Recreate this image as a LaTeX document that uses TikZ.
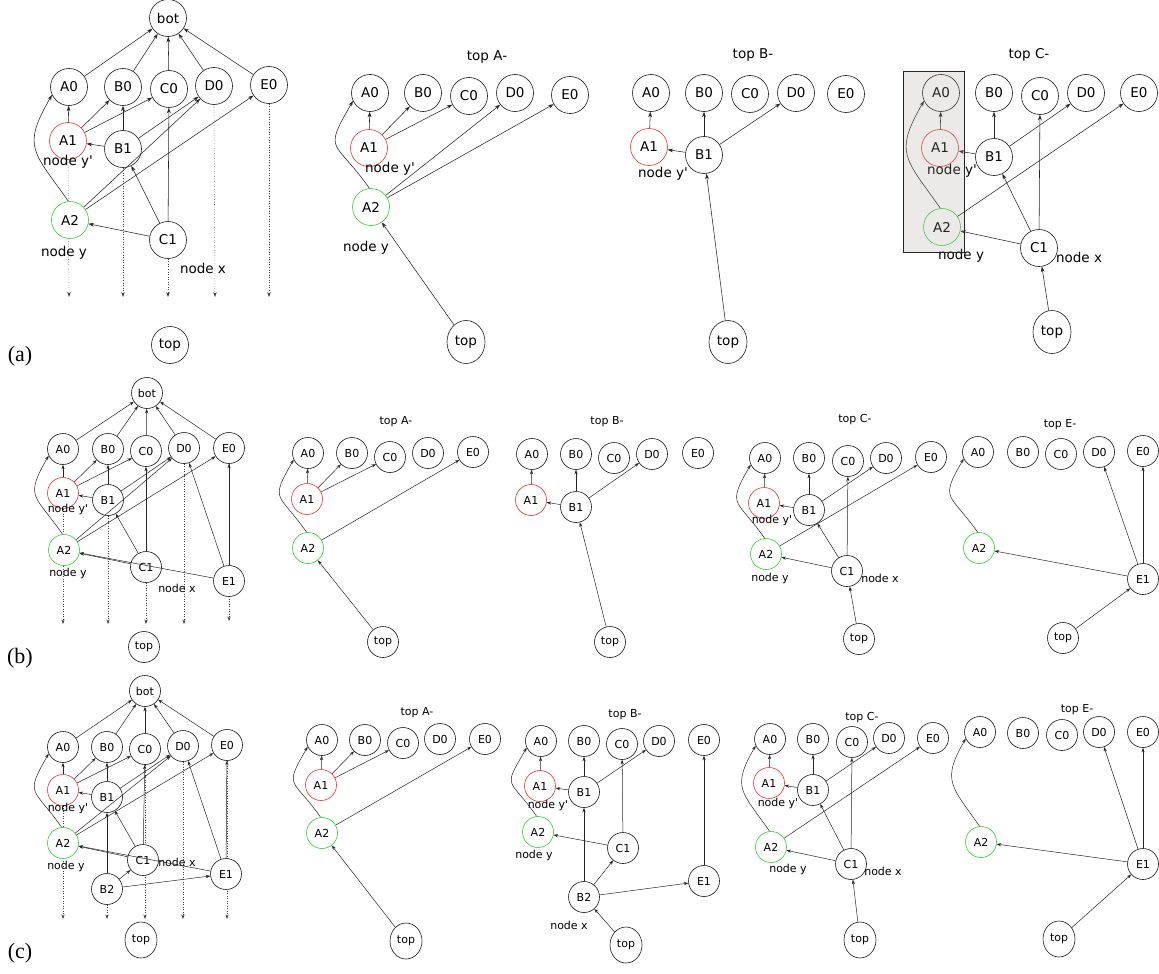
\documentclass[tikz,border=0pt]{standalone}
\usepackage{fontspec}
\setmainfont{DejaVu Sans}
\newfontfamily\dvs{DejaVu Sans}
\newfontfamily\serifpanel{Liberation Serif}
\usetikzlibrary{arrows.meta,shapes.geometric}
\pgfdeclarelayer{bg}
\pgfdeclarelayer{fg}
\pgfsetlayers{bg,main,fg}
\definecolor{nred}{RGB}{240,50,50}
\definecolor{ngreen}{RGB}{40,215,40}
\definecolor{boxfill}{RGB}{170,160,155}
\newcommand\myfa{\dvs\fontsize{13.5}{16}\selectfont}
\newcommand\myfb{\dvs\fontsize{11}{13}\selectfont}
\newcommand\yp{node y'}
\newcommand\curvA[2]{(#1.95) .. controls +(125:61) and +(240:61) .. (#2.205)}
\newcommand\curvB[2]{(#1.95) .. controls +(125:49) and +(240:49) .. (#2.205)}
\tikzset{
  base/.style={ellipse, draw=black!90, line width=0.6pt, fill=white, inner sep=0pt},
  na/.style={base, minimum width=37pt, minimum height=37pt, font=\myfa},
  nta/.style={base, minimum width=38pt, minimum height=43pt, font=\myfa},
  nb/.style={base, minimum width=31pt, minimum height=31pt, font=\myfb},
  ntb/.style={base, minimum width=32pt, minimum height=36pt, font=\myfb},
  rd/.style={draw=nred},
  gn/.style={draw=ngreen},
  laba/.style={inner sep=0pt, font=\myfa},
  labb/.style={inner sep=0pt, font=\myfb},
  ar/.style={-{Stealth[length=5.5pt,width=3.8pt]}, line width=0.55pt, draw=black!85},
  arb/.style={-{Stealth[length=4.5pt,width=3.2pt]}, line width=0.5pt, draw=black!85},
  dta/.style={dotted, -{Stealth[length=5pt,width=3.4pt]}, line width=0.55pt, draw=black!75},
  dtb/.style={dotted, -{Stealth[length=4.5pt,width=3.2pt]}, line width=0.5pt, draw=black!75},
  plab/.style={inner sep=0pt, font=\serifpanel\fontsize{22}{24}\selectfont},
}
\begin{document}
\begin{tikzpicture}[x=1pt,y=1pt]
\useasboundingbox (0,0) rectangle (1159,-974);
\begin{pgfonlayer}{bg}
\fill[white] (0,0) rectangle (1159,-974);
\end{pgfonlayer}

%% ---------------- (a) main ----------------
\node[na] (a-bot) at (168,-18) {bot};
\node[na] (a-A0) at (69,-87) {A0};
\node[na] (a-B0) at (123,-87) {B0};
\node[na] (a-C0) at (169,-89) {C0};
\node[na] (a-D0) at (214,-86) {D0};
\node[na] (a-E0) at (269,-85) {E0};
\node[na,rd] (a-A1) at (68,-141) {A1};
\node[na] (a-B1) at (123,-149) {B1};
\node[na,gn] (a-A2) at (70,-220) {A2};
\node[na] (a-C1) at (168,-240) {C1};
\node[na] (a-top) at (170,-345) {top};
\node[laba] (a-ly1) at (68,-162) {\yp};
\node[laba] (a-ly) at (64,-253) {node y};
\node[laba] (a-lx) at (203,-268) {node x};
\coordinate (a-dA) at (69,-297);
\coordinate (a-dB) at (123,-297);
\coordinate (a-dC) at (168,-297);
\coordinate (a-dD) at (215,-297);
\coordinate (a-dE) at (269,-297);
\begin{pgfonlayer}{bg}
\draw[dta] (a-A1.south) -- (a-dA);
\draw[dta] (a-B1.south) -- (a-dB);
\draw[dta] (a-C1.south) -- (a-dC);
\draw[dta] (a-D0.south) -- (a-dD);
\draw[dta] (a-E0.south) -- (a-dE);
\end{pgfonlayer}
\foreach \n in {A0,B0,C0,D0,E0} \draw[ar] (a-\n) -- (a-bot);
\draw[ar] (a-A1) -- (a-A0);
\draw[ar] (a-A1) -- (a-B0);
\draw[ar] (a-A1) -- (a-C0);
\draw[ar] (a-B1) -- (a-A1);
\draw[ar] (a-B1) -- (a-B0);
\draw[ar] (a-B1) -- (a-D0);
\draw[ar] \curvA{a-A2}{a-A0};
\draw[ar] (a-A2) -- (a-D0);
\draw[ar] (a-A2) -- (a-E0);
\draw[ar] (a-C1) -- (a-A2);
\draw[ar] (a-C1) -- (a-B1);
\draw[ar] (a-C1) -- (a-C0);

%% ---------------- (a) top A- ----------------
\node[laba] (aA-t) at (487,-57) {top A-};
\node[na] (aA-A0) at (370,-93) {A0};
\node[na] (aA-B0) at (423,-93) {B0};
\node[na] (aA-C0) at (469,-96) {C0};
\node[na] (aA-D0) at (515,-93) {D0};
\node[na] (aA-E0) at (570,-95) {E0};
\node[na,rd] (aA-A1) at (369,-148) {A1};
\node[na,gn] (aA-A2) at (371,-207) {A2};
\node[nta] (aA-top) at (466,-342) {top};
\node[laba] (aA-ly1) at (390,-169) {\yp};
\node[laba] (aA-ly) at (366,-248) {node y};
\draw[ar] (aA-A1) -- (aA-A0);
\draw[ar] (aA-A1) -- (aA-B0);
\draw[ar] (aA-A1) -- (aA-C0);
\draw[ar] \curvA{aA-A2}{aA-A0};
\draw[ar] (aA-A2) -- (aA-D0);
\draw[ar] (aA-A2) -- (aA-E0);
\draw[ar] (aA-top) -- (aA-A2);

%% ---------------- (a) top B- ----------------
\node[laba] (aB-t) at (753,-55) {top B-};
\node[na] (aB-A0) at (651,-93) {A0};
\node[na] (aB-B0) at (704,-93) {B0};
\node[na] (aB-C0) at (750,-94) {C0};
\node[na] (aB-D0) at (796,-93) {D0};
\node[na] (aB-E0) at (846,-94) {E0};
\node[na,rd] (aB-A1) at (649,-147) {A1};
\node[na] (aB-B1) at (704,-155) {B1};
\node[nta] (aB-top) at (728,-342) {top};
\node[laba] (aB-ly1) at (663,-174) {\yp};
\draw[ar] (aB-A1) -- (aB-A0);
\draw[ar] (aB-B1) -- (aB-A1);
\draw[ar] (aB-B1) -- (aB-B0);
\draw[ar] (aB-B1) -- (aB-D0);
\draw[ar] (aB-top) -- (aB-B1);

%% ---------------- (a) top C- ----------------
\node[laba] (aC-t) at (1029,-55) {top C-};
\node[na] (aC-A0) at (941,-93) {A0};
\node[na] (aC-B0) at (994,-93) {B0};
\node[na] (aC-C0) at (1040,-96) {C0};
\node[na] (aC-D0) at (1086,-93) {D0};
\node[na] (aC-E0) at (1139,-93) {E0};
\node[na,rd] (aC-A1) at (940,-148) {A1};
\node[na] (aC-B1) at (994,-157) {B1};
\node[na,gn] (aC-A2) at (942,-227) {A2};
\node[na] (aC-C1) at (1039,-248) {C1};
\node[nta] (aC-top) at (1052,-332) {top};
\node[laba] (aC-ly1) at (952,-171) {\yp};
\node[laba] (aC-ly) at (961,-256) {node y};
\node[laba] (aC-lx) at (1079,-257) {node x};
\draw[ar] (aC-A1) -- (aC-A0);
\draw[ar] \curvA{aC-A2}{aC-A0};
\draw[ar] (aC-B1) -- (aC-A1);
\draw[ar] (aC-B1) -- (aC-B0);
\draw[ar] (aC-B1) -- (aC-D0);
\draw[ar] (aC-A2) -- (aC-E0);
\draw[ar] (aC-C1) -- (aC-A2);
\draw[ar] (aC-C1) -- (aC-B1);
\draw[ar] (aC-C1) -- (aC-C0);
\draw[ar] (aC-top) -- (aC-C1);
\begin{pgfonlayer}{fg}
\draw[draw=black!85, line width=0.8pt, fill=boxfill, fill opacity=0.22] (903,-71) rectangle (964,-252);
\end{pgfonlayer}

\node[plab] (pa) at (20,-356) {(a)};

%% ---------------- (b) main ----------------
\node[nb] (b-bot) at (147,-393) {bot};
\node[nb] (b-A0) at (63,-449) {A0};
\node[nb] (b-B0) at (108,-449) {B0};
\node[nb] (b-C0) at (146,-451) {C0};
\node[nb] (b-D0) at (184,-448) {D0};
\node[nb] (b-E0) at (229,-448) {E0};
\node[nb,rd] (b-A1) at (63,-493) {A1};
\node[nb] (b-B1) at (108,-500) {B1};
\node[nb,gn] (b-A2) at (64,-550) {A2};
\node[nb] (b-C1) at (146,-567) {C1};
\node[nb] (b-E1) at (229,-581) {E1};
\node[nb] (b-top) at (144,-647) {top};
\node[labb] (b-ly1) at (68,-509) {\yp};
\node[labb] (b-ly) at (68,-573) {node y};
\node[labb] (b-lx) at (177,-588) {node x};
\coordinate (b-dA) at (63,-624);
\coordinate (b-dB) at (108,-624);
\coordinate (b-dC) at (146,-624);
\coordinate (b-dD) at (184,-624);
\coordinate (b-dE) at (229,-621);
\begin{pgfonlayer}{bg}
\draw[dtb] (b-A1.south) -- (b-dA);
\draw[dtb] (b-B1.south) -- (b-dB);
\draw[dtb] (b-C1.south) -- (b-dC);
\draw[dtb] (b-D0.south) -- (b-dD);
\draw[dtb] (b-E0.south) -- (b-dE);
\end{pgfonlayer}
\foreach \n in {A0,B0,C0,D0,E0} \draw[arb] (b-\n) -- (b-bot);
\draw[arb] (b-A1) -- (b-A0);
\draw[arb] (b-A1) -- (b-B0);
\draw[arb] (b-A1) -- (b-C0);
\draw[arb] (b-B1) -- (b-A1);
\draw[arb] (b-B1) -- (b-B0);
\draw[arb] (b-B1) -- (b-D0);
\draw[arb] \curvB{b-A2}{b-A0};
\draw[arb] (b-A2) -- (b-D0);
\draw[arb] (b-A2) -- (b-E0);
\draw[arb] (b-C1) -- (b-A2);
\draw[arb] (b-C1) -- (b-B1);
\draw[arb] (b-C1) -- (b-C0);
\draw[arb] (b-E1) -- (b-A2);
\draw[arb] (b-E1) -- (b-D0);
\draw[arb] (b-E1) -- (b-E0);

%% ---------------- (b) top A- ----------------
\node[labb] (bA-t) at (396,-422) {top A-};
\node[nb] (bA-A0) at (308,-453) {A0};
\node[nb] (bA-B0) at (352,-453) {B0};
\node[nb] (bA-C0) at (390,-457) {C0};
\node[nb] (bA-D0) at (428,-453) {D0};
\node[nb] (bA-E0) at (473,-452) {E0};
\node[nb,rd] (bA-A1) at (307,-499) {A1};
\node[nb,gn] (bA-A2) at (308,-548) {A2};
\node[nb] (bA-top) at (383,-642) {top};
\draw[arb] (bA-A1) -- (bA-A0);
\draw[arb] (bA-A1) -- (bA-B0);
\draw[arb] (bA-A1) -- (bA-C0);
\draw[arb] \curvB{bA-A2}{bA-A0};
\draw[arb] (bA-A2) -- (bA-E0);
\draw[arb] (bA-top) -- (bA-A2);

%% ---------------- (b) top B- ----------------
\node[labb] (bB-t) at (607,-422) {top B-};
\node[nb] (bB-A0) at (532,-454) {A0};
\node[nb] (bB-B0) at (576,-454) {B0};
\node[nb] (bB-C0) at (614,-458) {C0};
\node[nb] (bB-D0) at (652,-454) {D0};
\node[nb] (bB-E0) at (698,-453) {E0};
\node[nb,rd] (bB-A1) at (531,-500) {A1};
\node[nb] (bB-B1) at (576,-507) {B1};
\node[nb] (bB-top) at (610,-642) {top};
\draw[arb] (bB-A1) -- (bB-A0);
\draw[arb] (bB-B1) -- (bB-A1);
\draw[arb] (bB-B1) -- (bB-B0);
\draw[arb] (bB-B1) -- (bB-D0);
\draw[arb] (bB-top) -- (bB-B1);

%% ---------------- (b) top C- ----------------
\node[labb] (bC-t) at (855,-420) {top C-};
\node[nb] (bC-A0) at (765,-458) {A0};
\node[nb] (bC-B0) at (809,-458) {B0};
\node[nb] (bC-C0) at (848,-461) {C0};
\node[nb] (bC-D0) at (886,-458) {D0};
\node[nb] (bC-E0) at (931,-457) {E0};
\node[nb,rd] (bC-A1) at (764,-503) {A1};
\node[nb] (bC-B1) at (809,-510) {B1};
\node[nb,gn] (bC-A2) at (766,-554) {A2};
\node[nb] (bC-C1) at (847,-571) {C1};
\node[nb] (bC-top) at (859,-639) {top};
\node[labb] (bC-ly1) at (772,-520) {\yp};
\node[labb] (bC-ly) at (770,-578) {node y};
\node[labb] (bC-lx) at (880,-578) {node x};
\draw[arb] (bC-A1) -- (bC-A0);
\draw[arb] \curvB{bC-A2}{bC-A0};
\draw[arb] (bC-B1) -- (bC-A1);
\draw[arb] (bC-B1) -- (bC-B0);
\draw[arb] (bC-B1) -- (bC-D0);
\draw[arb] (bC-A2) -- (bC-E0);
\draw[arb] (bC-C1) -- (bC-A2);
\draw[arb] (bC-C1) -- (bC-B1);
\draw[arb] (bC-C1) -- (bC-C0);
\draw[arb] (bC-top) -- (bC-C1);

%% ---------------- (b) top E- ----------------
\node[labb] (bE-t) at (1060,-425) {top E-};
\node[nb] (bE-A0) at (978,-452) {A0};
\node[nb] (bE-B0) at (1023,-452) {B0};
\node[nb] (bE-C0) at (1061,-454) {C0};
\node[nb] (bE-D0) at (1099,-452) {D0};
\node[nb] (bE-E0) at (1143,-451) {E0};
\node[nb,gn] (bE-A2) at (979,-548) {A2};
\node[nb] (bE-E1) at (1143,-579) {E1};
\node[nb] (bE-top) at (1063,-638) {top};
\draw[arb] \curvB{bE-A2}{bE-A0};
\draw[arb] (bE-E1) -- (bE-A2);
\draw[arb] (bE-E1) -- (bE-D0);
\draw[arb] (bE-E1) -- (bE-E0);
\draw[arb] (bE-top) -- (bE-E1);

\node[plab] (pb) at (20,-658) {(b)};

%% ---------------- (c) main ----------------
\node[nb] (c-bot) at (145,-691) {bot};
\node[nb] (c-A0) at (63,-747) {A0};
\node[nb] (c-B0) at (107,-747) {B0};
\node[nb] (c-C0) at (145,-749) {C0};
\node[nb] (c-D0) at (183,-746) {D0};
\node[nb] (c-E0) at (227,-745) {E0};
\node[nb,rd] (c-A1) at (63,-790) {A1};
\node[nb] (c-B1) at (107,-797) {B1};
\node[nb,gn] (c-A2) at (63,-843) {A2};
\node[nb] (c-C1) at (143,-860) {C1};
\node[nb] (c-E1) at (226,-874) {E1};
\node[nb] (c-B2) at (107,-889) {B2};
\node[ntb] (c-top) at (141,-940) {top};
\node[labb] (c-ly1) at (68,-808) {\yp};
\node[labb] (c-ly) at (66,-866) {node y};
\node[labb] (c-lx) at (177,-862) {node x};
\coordinate (c-dA) at (63,-919);
\coordinate (c-dB) at (107,-919);
\coordinate (c-dC) at (145,-919);
\coordinate (c-dD) at (183,-919);
\coordinate (c-dE) at (227,-919);
\begin{pgfonlayer}{bg}
\draw[dtb] (c-A1.south) -- (c-dA);
\draw[dtb] (c-B2.south) -- (c-dB);
\draw[dtb] (c-C0.south) -- (c-dC);
\draw[dtb] (c-D0.south) -- (c-dD);
\draw[dtb] (c-E0.south) -- (c-dE);
\end{pgfonlayer}
\foreach \n in {A0,B0,C0,D0,E0} \draw[arb] (c-\n) -- (c-bot);
\draw[arb] (c-A1) -- (c-A0);
\draw[arb] (c-A1) -- (c-B0);
\draw[arb] (c-A1) -- (c-C0);
\draw[arb] (c-B1) -- (c-A1);
\draw[arb] (c-B1) -- (c-B0);
\draw[arb] (c-B1) -- (c-D0);
\draw[arb] \curvB{c-A2}{c-A0};
\draw[arb] (c-A2) -- (c-D0);
\draw[arb] (c-A2) -- (c-E0);
\draw[arb] (c-C1) -- (c-A2);
\draw[arb] (c-C1) -- (c-B1);
\draw[arb] (c-C1) -- (c-C0);
\draw[arb] (c-E1) -- (c-A2);
\draw[arb] (c-E1) -- (c-D0);
\draw[arb] (c-E1) -- (c-E0);
\draw[arb] (c-B2) -- (c-B1);
\draw[arb] (c-B2) -- (c-C1);
\draw[arb] (c-B2) -- (c-E1);

%% ---------------- (c) top A- ----------------
\node[labb] (cA-t) at (417,-713) {top A-};
\node[nb] (cA-A0) at (322,-740) {A0};
\node[nb] (cA-B0) at (365,-740) {B0};
\node[nb] (cA-C0) at (403,-743) {C0};
\node[nb] (cA-D0) at (440,-739) {D0};
\node[nb] (cA-E0) at (485,-739) {E0};
\node[nb,rd] (cA-A1) at (321,-785) {A1};
\node[nb,gn] (cA-A2) at (322,-833) {A2};
\node[ntb] (cA-top) at (406,-941) {top};
\draw[arb] (cA-A1) -- (cA-A0);
\draw[arb] (cA-A1) -- (cA-B0);
\draw[arb] (cA-A1) -- (cA-C0);
\draw[arb] \curvB{cA-A2}{cA-A0};
\draw[arb] (cA-A2) -- (cA-E0);
\draw[arb] (cA-top) -- (cA-A2);

%% ---------------- (c) top B- ----------------
\node[labb] (cB-t) at (625,-715) {top B-};
\node[nb] (cB-A0) at (541,-741) {A0};
\node[nb] (cB-B0) at (584,-741) {B0};
\node[nb] (cB-C0) at (622,-744) {C0};
\node[nb] (cB-D0) at (659,-741) {D0};
\node[nb] (cB-E0) at (704,-740) {E0};
\node[nb,rd] (cB-A1) at (540,-786) {A1};
\node[nb] (cB-B1) at (584,-792) {B1};
\node[nb,gn] (cB-A2) at (538,-832) {A2};
\node[nb] (cB-C1) at (623,-848) {C1};
\node[nb] (cB-E1) at (704,-881) {E1};
\node[nb] (cB-B2) at (584,-897) {B2};
\node[ntb] (cB-top) at (626,-945) {top};
\node[labb] (cB-ly1) at (548,-805) {\yp};
\node[labb] (cB-ly) at (534,-855) {node y};
\node[labb] (cB-lx) at (569,-925) {node x};
\draw[arb] (cB-A1) -- (cB-A0);
\draw[arb] \curvB{cB-A2}{cB-A0};
\draw[arb] (cB-B1) -- (cB-A1);
\draw[arb] (cB-B1) -- (cB-B0);
\draw[arb] (cB-B1) -- (cB-D0);
\draw[arb] (cB-C1) -- (cB-A2);
\draw[arb] (cB-C1) -- (cB-C0);
\draw[arb] (cB-B2) -- (cB-B1);
\draw[arb] (cB-B2) -- (cB-C1);
\draw[arb] (cB-B2) -- (cB-E1);
\draw[arb] (cB-E1) -- (cB-E0);
\draw[arb] (cB-top) -- (cB-B2);

%% ---------------- (c) top C- ----------------
\node[labb] (cC-t) at (862,-718) {top C-};
\node[nb] (cC-A0) at (770,-739) {A0};
\node[nb] (cC-B0) at (813,-739) {B0};
\node[nb] (cC-C0) at (852,-742) {C0};
\node[nb] (cC-D0) at (889,-738) {D0};
\node[nb] (cC-E0) at (933,-738) {E0};
\node[nb,rd] (cC-A1) at (769,-783) {A1};
\node[nb] (cC-B1) at (813,-790) {B1};
\node[nb,gn] (cC-A2) at (771,-847) {A2};
\node[nb] (cC-C1) at (851,-864) {C1};
\node[ntb] (cC-top) at (860,-940) {top};
\node[labb] (cC-ly1) at (778,-803) {\yp};
\node[labb] (cC-ly) at (788,-869) {node y};
\node[labb] (cC-lx) at (883,-871) {node x};
\draw[arb] (cC-A1) -- (cC-A0);
\draw[arb] \curvB{cC-A2}{cC-A0};
\draw[arb] (cC-B1) -- (cC-A1);
\draw[arb] (cC-B1) -- (cC-B0);
\draw[arb] (cC-B1) -- (cC-D0);
\draw[arb] (cC-A2) -- (cC-E0);
\draw[arb] (cC-C1) -- (cC-A2);
\draw[arb] (cC-C1) -- (cC-B1);
\draw[arb] (cC-C1) -- (cC-C0);
\draw[arb] (cC-top) -- (cC-C1);

%% ---------------- (c) top E- ----------------
\node[labb] (cE-t) at (1077,-710) {top E-};
\node[nb] (cE-A0) at (980,-732) {A0};
\node[nb] (cE-B0) at (1023,-733) {B0};
\node[nb] (cE-C0) at (1062,-735) {C0};
\node[nb] (cE-D0) at (1099,-732) {D0};
\node[nb] (cE-E0) at (1143,-732) {E0};
\node[nb,gn] (cE-A2) at (981,-842) {A2};
\node[nb] (cE-E1) at (1143,-864) {E1};
\node[ntb] (cE-top) at (1059,-939) {top};
\draw[arb] \curvB{cE-A2}{cE-A0};
\draw[arb] (cE-E1) -- (cE-A2);
\draw[arb] (cE-E1) -- (cE-D0);
\draw[arb] (cE-E1) -- (cE-E0);
\draw[arb] (cE-top) -- (cE-E1);

\node[plab] (pc) at (20,-953) {(c)};
\end{tikzpicture}
\end{document}
